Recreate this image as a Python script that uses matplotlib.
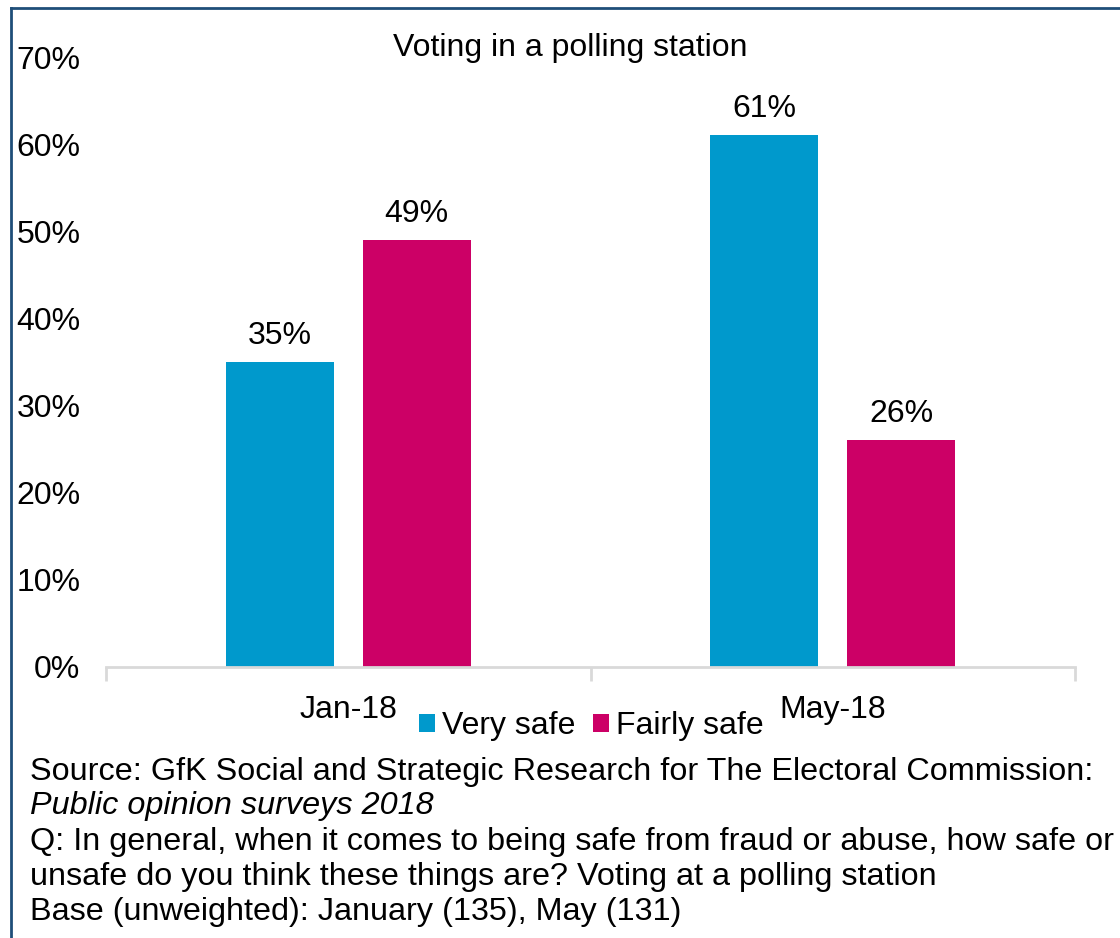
import matplotlib
matplotlib.use("Agg")
import matplotlib.pyplot as plt
import numpy as np
from matplotlib.lines import Line2D
from matplotlib.ticker import FixedLocator

plt.rcParams['font.family'] = ['Liberation Sans', 'DejaVu Sans']

categories = ["Jan-18", "May-18"]
series_names = ["Very safe", "Fairly safe"]
very_safe = [0.35, 0.61]
fairly_safe = [0.49, 0.26]
yticks = [0, 0.1, 0.2, 0.3, 0.4, 0.5, 0.6, 0.7]
title = "Voting in a polling station"
colors = ["#0099CC", "#CC0066"]

FS = 23
W, H = 1120, 938
fig = plt.figure(figsize=(W/100, H/100), dpi=100)
ax = fig.add_axes([106/W, 1-667/H, (1075-106)/W, (667-57)/H])

x = np.arange(len(categories))
bw = 0.223
off = 0.141
for vals, o, c, name in [(very_safe, -off, colors[0], series_names[0]),
                          (fairly_safe, off, colors[1], series_names[1])]:
    bars = ax.bar(x + o, vals, width=bw, color=c, label=name, zorder=2)
    for b, v in zip(bars, vals):
        ax.annotate(f"{v*100:.0f}%", (b.get_x()+b.get_width()/2, v),
                    xytext=(0, 8), textcoords="offset points",
                    ha="center", va="bottom", fontsize=FS)

ax.set_xlim(-0.5, 1.5)
ax.set_ylim(0, 0.7)
ax.set_yticks(yticks)
ax.set_yticklabels([f"{t*100:.0f}%" for t in yticks], fontsize=FS)
ax.tick_params(axis='y', length=0, pad=18.5)
ax.set_xticks(x)
ax.set_xticklabels(categories, fontsize=FS)
ax.tick_params(axis='x', length=0, pad=20)
ax.xaxis.set_minor_locator(FixedLocator([-0.5, 0.5, 1.5]))
ax.tick_params(axis='x', which='minor', length=10, color="#D9D9D9", width=2)
for s in ["top", "right", "left"]:
    ax.spines[s].set_visible(False)
ax.spines["bottom"].set_color("#D9D9D9")
ax.spines["bottom"].set_linewidth(2)

fig.text(570/W, 1-48/H, title, ha="center", va="center", fontsize=FS)

leg = fig.legend(loc="center", bbox_to_anchor=(591/W, 1-726/H), ncol=2,
                 frameon=False, fontsize=FS, handlelength=0.5, handleheight=0.5,
                 handletextpad=0.22, columnspacing=0.56, borderpad=0)

foot_y = [772, 806, 842, 877, 912]
foot = ["Source: GfK Social and Strategic Research for The Electoral Commission:",
        "Public opinion surveys 2018",
        "Q: In general, when it comes to being safe from fraud or abuse, how safe or",
        "unsafe do you think these things are? Voting at a polling station",
        "Base (unweighted): January (135), May (131)"]
for i, (t, yy) in enumerate(zip(foot, foot_y)):
    fig.text(30/W, 1-yy/H, t, fontsize=23.3, va="center", ha="left",
             style="italic" if i == 1 else "normal")

fig.add_artist(Line2D([11/W, 1], [1-8/H, 1-8/H], color="#1F4E79", lw=2, transform=fig.transFigure))
fig.add_artist(Line2D([11/W, 11/W], [0, 1-8/H], color="#1F4E79", lw=2, transform=fig.transFigure))

fig.savefig("out.png", dpi=100)
